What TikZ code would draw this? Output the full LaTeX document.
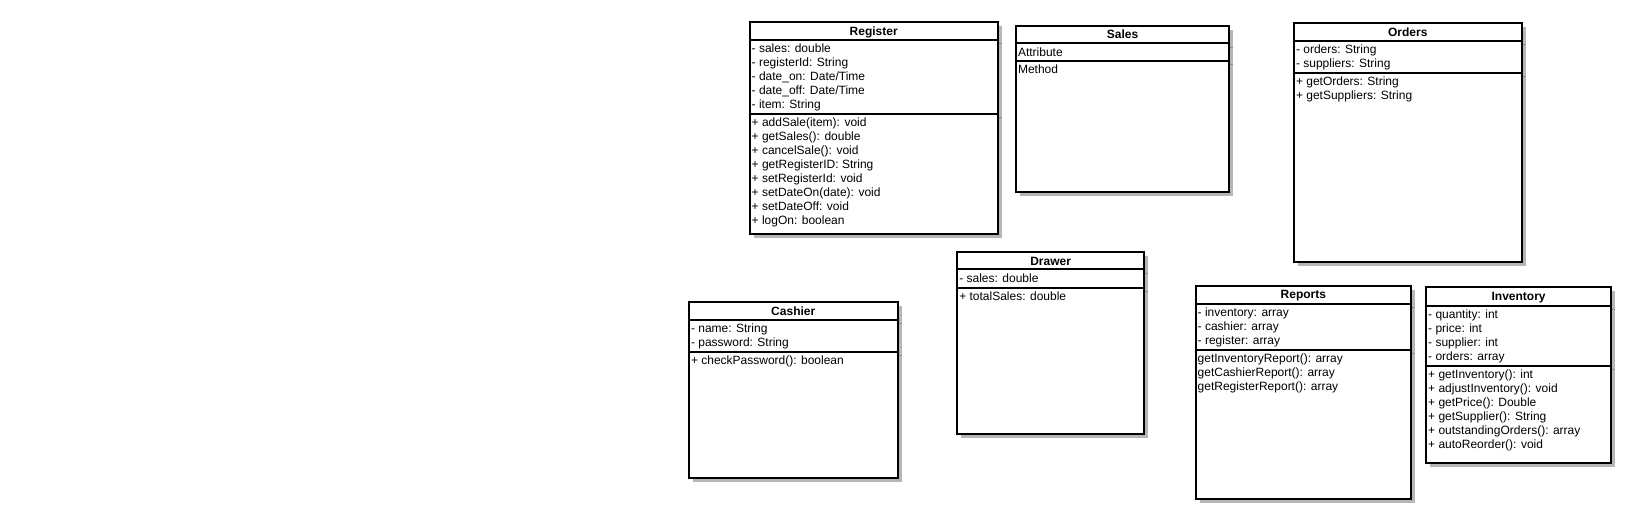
\documentclass[tikz,border=0pt]{standalone}
\usepackage{fontspec}
\setmainfont{Liberation Sans}
\definecolor{shadowgray}{RGB}{182,182,182}
\definecolor{tickgray}{RGB}{140,140,140}
\tikzset{
  classbox/.style={draw=black,line width=2pt,fill=white,inner sep=0pt,outer sep=0pt,anchor=north west},
  sepline/.style={draw=black,line width=2pt},
  shadowfill/.style={fill=shadowgray},
  shadowtick/.style={draw=tickgray,line width=1pt},
  classtitle/.style={font=\fontsize{12}{14}\selectfont\bfseries,inner sep=0pt,anchor=base},
  classtext/.style={font=\fontsize{12}{14}\selectfont,inner sep=0pt,anchor=base west},
}
% #1 id, #2 x1, #3 y1, #4 x2, #5 y2, #6 sep1, #7 sep2, #8 title, #9 attributes
\newcommand\umlclass[9]{%
  \fill[shadowfill] (#2+4,#3+4) rectangle (#4+4,#5+4);
  \draw[shadowtick] (#4+1,#6+4) -- (#4+4,#6+4);
  \draw[shadowtick] (#4+1,#7+4) -- (#4+4,#7+4);
  \node[classbox,minimum width=#4pt-#2pt,minimum height=#5pt-#3pt] (#1) at (#2,#3) {};
  \draw[sepline] (#2,#6) -- (#4,#6);
  \draw[sepline] (#2,#7) -- (#4,#7);
  \node[classtitle] (#1-title) at ({(#2+#4)/2},#3+12.8) {#8};
  \node[classtext] (#1-attr) at (#2+1.8,#6+12.8) {\begin{tabular}[t]{@{}l@{}}#9\end{tabular}};
}
% #1 id, #2 x1, #3 sep2, #4 methods
\newcommand\umlmethods[4]{%
  \node[classtext] (#1-meth) at (#2+1.8,#3+12.8) {\begin{tabular}[t]{@{}l@{}}#4\end{tabular}};
}
\begin{document}
\begin{tikzpicture}[x=1pt,y=-1pt]
\useasboundingbox (0,0) rectangle (1633,518);
\fill[white] (0,0) rectangle (1633,518);

\umlclass{register}{749.7}{22.3}{997.7}{234}{40}{114}{Register}{- sales: double\\- registerId: String\\- date\_on: Date/Time\\- date\_off: Date/Time\\- item: String}
\umlmethods{register}{749.7}{114}{+ addSale(item): void\\+ getSales(): double\\+ cancelSale(): void\\+ getRegisterID: String\\+ setRegisterId: void\\+ setDateOn(date): void\\+ setDateOff: void\\+ logOn: boolean}

\umlclass{sales}{1016}{25.7}{1229}{191.7}{43.3}{61}{Sales}{Attribute}
\umlmethods{sales}{1016}{61}{Method}

\umlclass{orders}{1294}{23.3}{1521.5}{261.7}{40.7}{72.7}{Orders}{- orders: String\\- suppliers: String}
\umlmethods{orders}{1294}{72.7}{+ getOrders: String\\+ getSuppliers: String}

\umlclass{cashier}{689}{302.3}{897.5}{477.7}{320}{351.7}{Cashier}{- name: String\\- password: String}
\umlmethods{cashier}{689}{351.7}{+ checkPassword(): boolean}

\umlclass{drawer}{957.3}{252.3}{1144}{434}{269.3}{287.7}{Drawer}{- sales: double}
\umlmethods{drawer}{957.3}{287.7}{+ totalSales: double}

\umlclass{reports}{1195.7}{285.7}{1411}{499}{304}{350}{Reports}{- inventory: array\\- cashier: array\\- register: array}
\umlmethods{reports}{1195.7}{350}{getInventoryReport(): array\\getCashierReport(): array\\getRegisterReport(): array}

\umlclass{inventory}{1426.2}{287.3}{1611}{463}{305.7}{365.7}{Inventory}{- quantity: int\\- price: int\\- supplier: int\\- orders: array}
\umlmethods{inventory}{1426.2}{365.7}{+ getInventory(): int\\+ adjustInventory(): void\\+ getPrice(): Double\\+ getSupplier(): String\\+ outstandingOrders(): array\\+ autoReorder(): void}
\end{tikzpicture}
\end{document}
